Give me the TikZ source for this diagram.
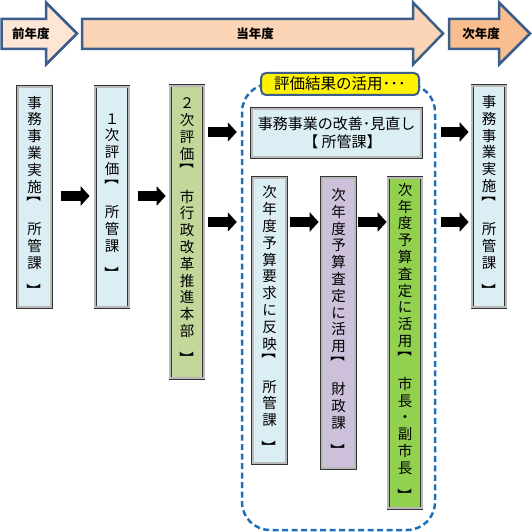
\documentclass[tikz,border=0pt]{standalone}
\usepackage{fontspec}
\usepackage{graphicx}
\newfontfamily\jp{Noto Sans CJK JP}
\usetikzlibrary{arrows.meta}
\setlength{\lineskiplimit}{-50pt}
\definecolor{hdrline}{HTML}{3B5E8C}
\definecolor{pkA}{HTML}{FDE6D5}
\definecolor{pkB}{HTML}{FBD5B5}
\definecolor{pkC}{HTML}{F9BE8F}
\definecolor{lblue}{HTML}{DBEEF4}
\definecolor{khaki}{HTML}{C4D79B}
\definecolor{lpurple}{HTML}{CCC0DA}
\definecolor{lgreen}{HTML}{92D050}
\definecolor{dashblue}{HTML}{1F70B8}
\newcommand{\vo}{\\[-8.5pt]\rotatebox[origin=c]{-90}{【}\\[17.8pt]}
\newcommand{\vc}{\\[11pt]\rotatebox[origin=c]{-90}{】}}
\tikzset{
  hdr/.style={draw=hdrline, line width=2.5pt, line join=miter},
  hdrtext/.style={font=\jp\bfseries\fontsize{12.5}{15}\selectfont, inner sep=0pt},
  dbl/.style={draw=black!80, double=gray!55, double distance=1.6pt, line width=0.7pt, inner sep=0pt},
  vbox/.style={dbl, minimum width=33.5pt, align=center,
    font=\jp\fontsize{14.5}{16.8}\selectfont},
  hbox/.style={dbl, align=center, font=\jp\fontsize{15}{18}\selectfont},
  blk/.style={black, line width=10pt, -{Triangle[length=9pt 0 0, width=19pt 0 0]}},
}
\begin{document}
\begin{tikzpicture}[x=1pt,y=-1pt]
\useasboundingbox (0,0) rectangle (532,532);
% header arrows
\draw[hdr, fill=pkA] (1.5,19) -- (46,19) -- (46,2.5) -- (77,33.5) -- (46,64.5) -- (46,49) -- (1.5,49) -- cycle;
\draw[hdr, fill=pkB] (82,19) -- (413,19) -- (413,2.5) -- (443,33.5) -- (413,64.5) -- (413,49) -- (82,49) -- cycle;
\draw[hdr, fill=pkC] (449,19) -- (499,19) -- (499,2.5) -- (530,33.5) -- (499,64.5) -- (499,49) -- (449,49) -- cycle;
\node[hdrtext] (t1) at (31,34) {前年度};
\node[hdrtext] (t2) at (255,34) {当年度};
\node[hdrtext] (t3) at (481,34) {次年度};
% group
\node[draw=dashblue, line width=2.5pt, dash pattern=on 6pt off 3.5pt, rounded corners=28pt,
  minimum width=193pt, minimum height=446pt, inner sep=0pt] (grp) at (338.5,307) {};
\node[fill=yellow, draw=hdrline, line width=2pt, rounded corners=5pt, minimum width=158pt,
  minimum height=22pt, inner sep=0pt, font=\jp\fontsize{15.5}{18}\selectfont] (lbl) at (340,84) {評価結果の活用･･･};
% boxes
\node[vbox, fill=lblue, minimum height=220.5pt] (b1) at (34.5,197) {事\\務\\事\\業\\実\\施\vo 所\\管\\課\vc};
\node[vbox, fill=lblue, minimum height=220.5pt] (b2) at (112,197) {１\\次\\評\\価\vo 所\\管\\課\vc};
\node[vbox, fill=khaki, minimum height=292.5pt] (b3) at (187,232) {２\\次\\評\\価\vo 市\\行\\政\\改\\革\\推\\進\\本\\部\vc};
\node[hbox, fill=lblue, minimum width=169.5pt, minimum height=48.5pt] (imp) at (336.5,133) {事務事業の改善･見直し\\\hspace*{12pt}【 所管課】};
\node[vbox, fill=lblue, minimum height=285.5pt] (ba) at (269.5,320.5) {次\\年\\度\\予\\算\\要\\求\\に\\反\\映\vo 所\\管\\課\vc};
\node[vbox, fill=lpurple, minimum height=290.5pt] (bb) at (338.5,323) {次\\年\\度\\予\\算\\査\\定\\に\\活\\用\vo 財\\政\\課\vc};
\node[vbox, fill=lgreen, minimum height=330.5pt] (bc) at (405,343) {次\\年\\度\\予\\算\\査\\定\\に\\活\\用\vo 市\\長\\・\\副\\市\\長\vc};
\node[vbox, fill=lblue, minimum height=221.5pt] (br) at (489,196.5) {事\\務\\事\\業\\実\\施\vo 所\\管\\課\vc};
% rows
\coordinate (row0) at (0,196);
\coordinate (row1) at (0,132);
\coordinate (row2) at (0,222);
% arrows
\draw[blk, shorten <=9.75pt, shorten >=5.25pt] (b1.east |- row0) -- (b2.west |- row0);
\draw[blk, shorten <=9.25pt, shorten >=4.25pt] (b2.east |- row0) -- (b3.west |- row0);
\draw[blk, shorten <=4.25pt, shorten >=4pt] (b3.east |- row1) -- (grp.west |- row1);
\draw[blk, shorten <=4.25pt, shorten >=4pt] (b3.east |- row2) -- (grp.west |- row2);
\draw[blk, shorten <=3.75pt, shorten >=2.75pt] (ba.east |- row2) -- (bb.west |- row2);
\draw[blk, shorten <=2.75pt, shorten >=1.25pt] (bb.east |- row2) -- (bc.west |- row2);
\draw[blk, shorten <=5pt, shorten >=3.25pt] (grp.east |- row1) -- (br.west |- row1);
\draw[blk, shorten <=5pt, shorten >=3.25pt] (grp.east |- row2) -- (br.west |- row2);
\end{tikzpicture}
\end{document}
